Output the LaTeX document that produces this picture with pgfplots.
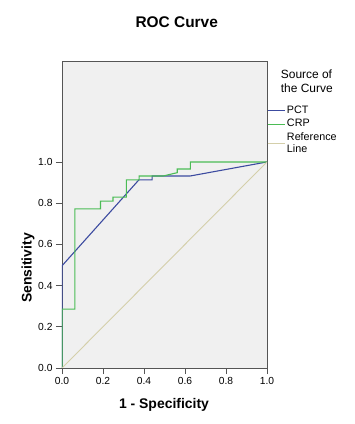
\documentclass[border=0pt]{standalone}
\usepackage{pgfplots}
\pgfplotsset{compat=1.18}
\usepackage{fontspec}
\setmainfont{Liberation Sans}
\definecolor{pct}{RGB}{60,75,160}
\definecolor{crp}{RGB}{75,188,85}
\definecolor{refl}{RGB}{212,207,170}
\definecolor{bg}{RGB}{240,240,240}
\definecolor{axgray}{RGB}{85,85,85}
\begin{document}
\begin{tikzpicture}
\useasboundingbox (-62bp,-56bp) rectangle (293bp,368bp);
\begin{axis}[
  at={(0bp,0bp)}, anchor=south west,
  scale only axis, width=205bp, height=307bp,
  xmin=0, xmax=1, ymin=0, ymax=1.49,
  axis background/.style={fill=bg},
  axis line style={draw=axgray, line width=0.9pt},
  xtick={0,0.2,0.4,0.6,0.8,1}, ytick={0,0.2,0.4,0.6,0.8,1},
  tick align=outside, tick pos=left, major tick length=6bp,
  tick style={draw=axgray, line width=0.9pt},
  /pgf/number format/assume math mode=true,
  /pgf/number format/.cd, fixed, fixed zerofill, precision=1, /pgfplots/.cd,
  ticklabel style={font=\fontsize{10.3}{12}\selectfont},
  legend style={at={(1,1)}, anchor=north west, xshift=0bp, yshift=-43bp,
    draw=none, fill=none, font=\fontsize{10.8}{11.5}\selectfont,
    row sep=0.3bp, cells={anchor=west, align=left}, inner sep=0pt},
  legend image code/.code={\draw[#1, line width=0.8pt] (0bp,0bp) -- (17bp,0bp);},
]
\addplot[pct, line width=1.1pt] coordinates {(0,0) (0,0.496) (0.375,0.913) (0.44,0.913) (0.44,0.932) (0.626,0.932) (1,1)};
\addlegendentry{PCT}
\addplot[crp, line width=1.1pt] coordinates {(0,0) (0,0.286) (0.063,0.286) (0.063,0.772) (0.188,0.772) (0.188,0.81) (0.249,0.81) (0.249,0.829) (0.314,0.829) (0.314,0.913) (0.376,0.913) (0.376,0.932) (0.494,0.932) (0.562,0.948) (0.562,0.966) (0.626,0.966) (0.626,1) (1,1)};
\addlegendentry{CRP}
\addplot[refl, line width=0.9pt] coordinates {(0,0) (1,1)};
\addlegendentry{Reference\\Line}
\end{axis}
\node[font=\bfseries\fontsize{15.5}{18}\selectfont] at (114.7bp,346bp) {ROC Curve};
\node[font=\bfseries\fontsize{14}{16}\selectfont] at (102bp,-37bp) {1 - Specificity};
\node[font=\bfseries\fontsize{14}{16}\selectfont, rotate=90] at (-34bp,100bp) {Sensitivity};
\node[font=\fontsize{12}{13.5}\selectfont, anchor=north west, align=left, inner sep=0pt] at (218.7bp,298bp) {Source of\\the Curve};
\end{tikzpicture}
\end{document}
